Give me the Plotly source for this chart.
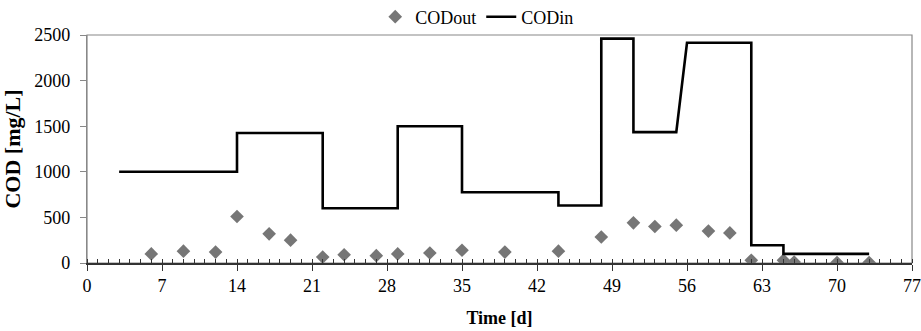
import plotly.graph_objects as go

# COD influent (step profile)
codin_t = [3, 14, 14, 22, 22, 29, 29, 35, 35, 44, 44, 48, 48, 51, 51, 55, 56, 62, 62, 65, 65, 73]
codin_v = [1000, 1000, 1425, 1425, 600, 600, 1500, 1500, 775, 775, 630, 630, 2460, 2460, 1435, 1435,
           2415, 2415, 195, 195, 100, 100]

# COD effluent
codout_t = [6, 9, 12, 14, 17, 19, 22, 24, 27, 29, 32, 35, 39, 44, 48, 51, 53, 55, 58, 60, 62, 65, 66, 70, 73]
codout_v = [100, 130, 120, 510, 320, 250, 65, 90, 80, 100, 110, 140, 120, 130, 285, 440, 400, 415,
            350, 330, 30, 30, 10, 5, 5]

x_ticks = [0, 7, 14, 21, 28, 35, 42, 49, 56, 63, 70, 77]
y_ticks = [0, 500, 1000, 1500, 2000, 2500]

FONT = "Liberation Serif, Times New Roman, serif"

fig = go.Figure()
fig.add_trace(go.Scatter(
    x=codout_t, y=codout_v, mode="markers", name="CODout",
    marker=dict(symbol="diamond", size=10.5, color="#767676"),
))
fig.add_trace(go.Scatter(
    x=codin_t, y=codin_v, mode="lines", name="CODin",
    line=dict(color="black", width=2.6),
))

fig.update_layout(
    width=921, height=331,
    margin=dict(l=87, r=9, t=35, b=68, autoexpand=False),
    paper_bgcolor="white", plot_bgcolor="white",
    font=dict(family=FONT, size=18, color="black"),
    showlegend=True,
    legend=dict(orientation="h", x=0.473, xanchor="center", y=1.079, yanchor="middle",
                font=dict(family=FONT, size=18, color="black"), itemwidth=30, tracegroupgap=0,
                bgcolor="rgba(0,0,0,0)"),
)
fig.update_xaxes(
    range=[0, 77], tickvals=x_ticks, ticktext=[str(v) for v in x_ticks],
    showgrid=False, zeroline=False,
    showline=True, linecolor="#333", linewidth=1.5, mirror=False,
    ticks="outside", ticklen=6, tickcolor="#333", tickwidth=1.2,
    minor=dict(dtick=1, tick0=0, ticks="inside", ticklen=4, tickcolor="#333", tickwidth=1),
    title=dict(text="<b>Time [d]</b>", font=dict(family=FONT, size=18, color="black"), standoff=16),
    tickfont=dict(family=FONT, size=18, color="black"),
)
fig.update_yaxes(
    range=[0, 2500], tickvals=y_ticks, ticktext=[str(v) for v in y_ticks],
    showgrid=False, zeroline=False,
    showline=True, linecolor="#888", linewidth=1.2, mirror=False,
    ticks="outside", ticklen=6, tickcolor="#888", ticklabelstandoff=6,
    title=dict(text="<b>COD [mg/L]</b>", font=dict(family=FONT, size=22, color="black"), standoff=8),
    tickfont=dict(family=FONT, size=18, color="black"),
)
# plot-area frame (top and right edges)
fig.add_shape(type="rect", xref="paper", yref="paper", x0=0, y0=0, x1=1, y1=1,
              line=dict(color="#888", width=1.2), fillcolor="rgba(0,0,0,0)", layer="below")

fig.write_html("out.html")
